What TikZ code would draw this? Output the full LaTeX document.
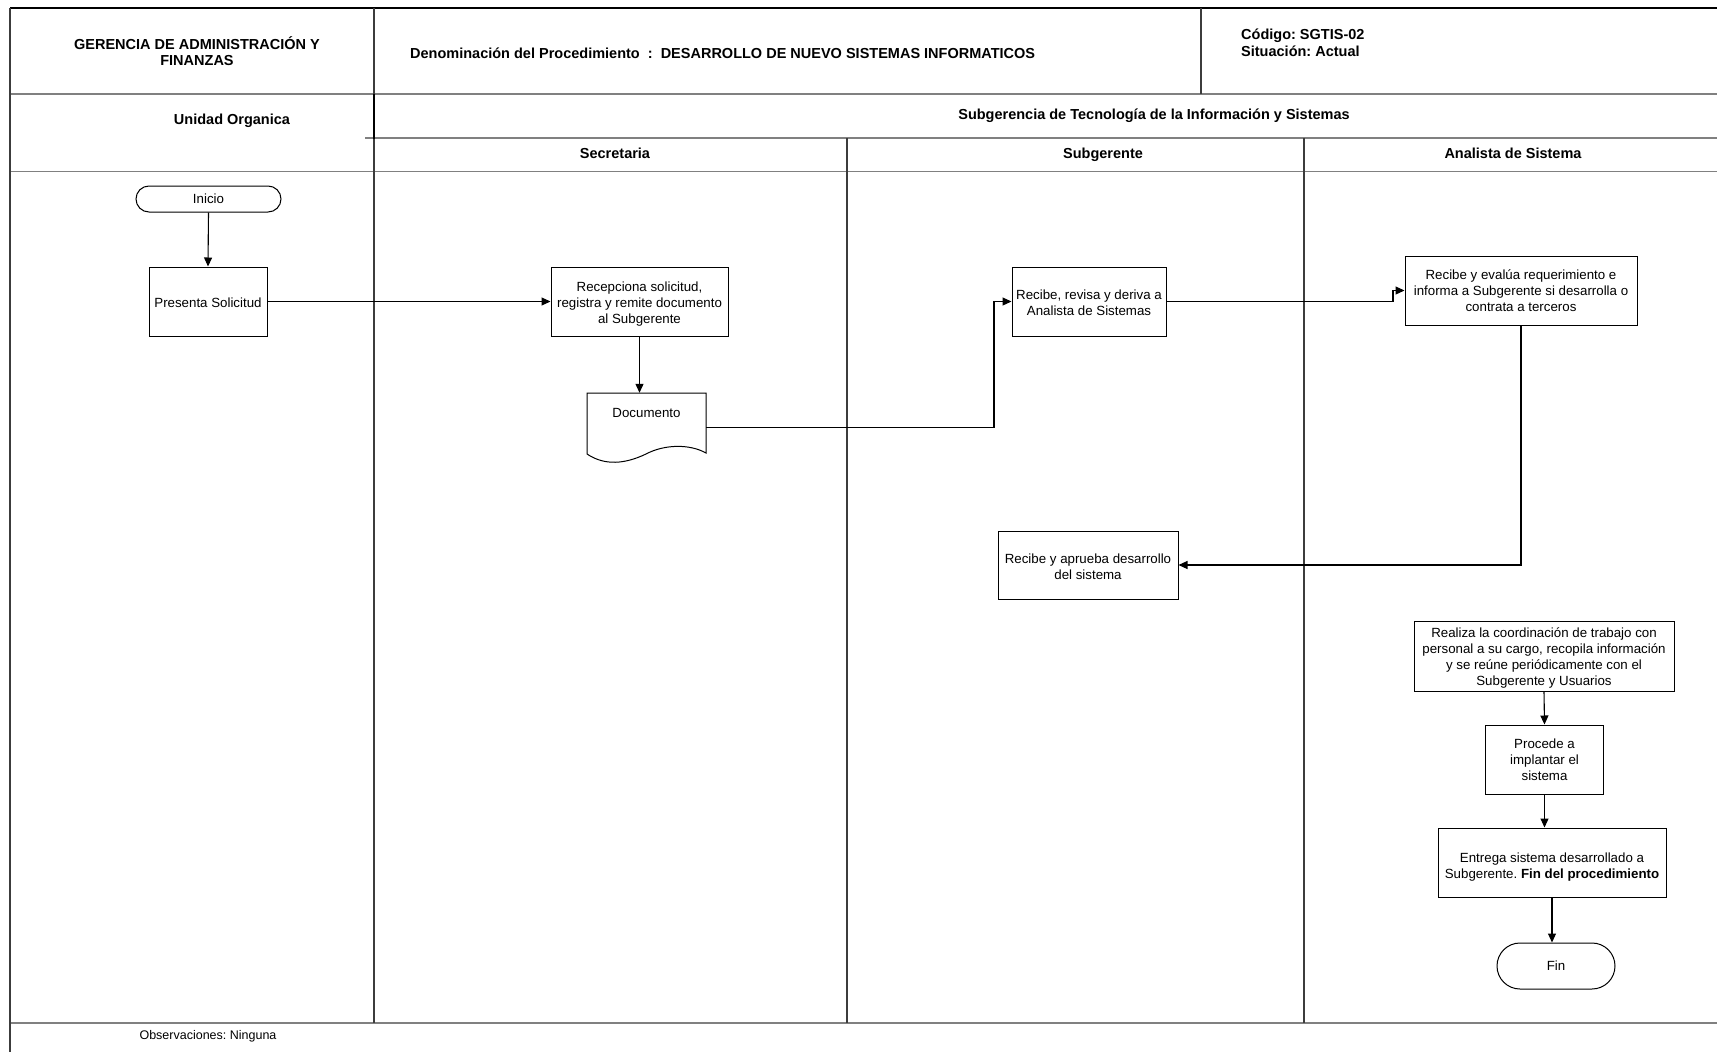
\documentclass[tikz,border=0pt]{standalone}
\usepackage{fontspec}
\setmainfont{Liberation Sans}
\usetikzlibrary{arrows.meta,calc}
\definecolor{gridgray}{RGB}{128,128,128}
\definecolor{lanedark}{RGB}{60,60,60}
\frenchspacing
\begin{document}
\begin{tikzpicture}[x=1pt,y=-1pt,
  gridline/.style={draw=gridgray, line width=1.8pt},
  laneline/.style={draw=lanedark, line width=1.1pt},
  headtxt/.style={font=\fontsize{14.5}{16.5}\selectfont\bfseries, inner sep=0pt},
  procbox/.style={draw=black, line width=1pt, inner sep=0pt},
  boxtext/.style={align=center, inner sep=0pt, font=\fontsize{13.3}{16}\selectfont},
  termbox/.style={draw=black, line width=1pt, inner sep=0pt, font=\fontsize{13.3}{16}\selectfont},
  arr/.style={draw=black, line width=1.1pt, -{Triangle[length=9pt,width=8pt]}}
]
\useasboundingbox (0,0) rectangle (1717,1052);
\fill[white] (0,0) rectangle (1717,1052);

% --- frame and lanes ---
\draw[gridline] (10,94) -- (1717,94);
\draw[gridline] (365,138) -- (1717,138);
\draw[gridline] (10,171.5) -- (1717,171.5);
\draw[gridline] (10,1023) -- (1717,1023);
\draw[draw=black, line width=1.3pt] (10,8) -- (1717,8);
\draw[laneline] (10,8) -- (10,1052);
\draw[laneline] (374,8) -- (374,1023);
\draw[draw=black, line width=2.4pt] (374,94) -- (374,139);
\draw[laneline] (1201,8) -- (1201,94);
\draw[laneline] (847,138) -- (847,1023);
\draw[laneline] (1304,138) -- (1304,1023);

% --- header texts ---
\node[headtxt, align=center] (tGer) at (197,51) {GERENCIA DE ADMINISTRACIÓN Y\\FINANZAS};
\node[headtxt, anchor=west] (tDen) at (410,53) {Denominación del Procedimiento\ \ :\ \ DESARROLLO DE NUEVO SISTEMAS INFORMATICOS};
\node[headtxt, anchor=west, align=left] (tCod) at (1241,43) {Código: SGTIS-02\\Situación: Actual};
\node[headtxt, anchor=base] (tUni) at (232,124.6) {Unidad Organica};
\node[headtxt, anchor=base] (tSub) at (1154,119) {Subgerencia de Tecnología de la Información y Sistemas};
\node[headtxt, anchor=base] (tSec) at (615,158.5) {Secretaria};
\node[headtxt, anchor=base] (tSge) at (1103,158.5) {Subgerente};
\node[headtxt, anchor=base] (tAna) at (1513,158.5) {Analista de Sistema};
\node[font=\fontsize{12.5}{15}\selectfont, inner sep=0pt, anchor=base] (tObs) at (208,1039.3) {Observaciones: Ninguna};

% --- flow nodes ---
\node[termbox, rounded corners=13pt, minimum width=145pt, minimum height=26pt] (inicio) at (208.5,199) {Inicio};

\node[procbox, minimum width=118pt, minimum height=69pt] (presenta) at (208,301.5) {};
\node[boxtext] (presentaT) at ([yshift=-1.1pt]presenta.center) {Presenta Solicitud};

\node[procbox, minimum width=177pt, minimum height=69pt] (recep) at (639.5,301.5) {};
\node[boxtext] (recepT) at ([yshift=-3pt]recep.center)
  {Recepciona solicitud,\\registra y remite documento\\al Subgerente};

% document symbol
\node[minimum width=119pt, minimum height=69pt, inner sep=0pt] (doc) at (646.5,427.5) {};
\draw[black, line width=1pt] (587,454) -- (587,393) -- (706,393) -- (706,453)
  .. controls (690,444) and (665,444) .. (646,454)
  .. controls (625,464) and (605,466) .. (587,454);
\node[boxtext] (docT) at (646.5,413) {Documento};

\node[procbox, minimum width=154pt, minimum height=69pt] (revisa) at (1089,301.5) {};
\node[boxtext] (revisaT) at ([yshift=-1.1pt]revisa.center)
  {Recibe, revisa y deriva a\\Analista de Sistemas};

\node[procbox, minimum width=232pt, minimum height=69pt] (evalua) at (1521,290.5) {};
\node[boxtext] (evaluaT) at (evalua.center)
  {Recibe y evalúa requerimiento e\\informa a Subgerente si desarrolla o\\contrata a terceros};

\node[procbox, minimum width=180pt, minimum height=68pt] (aprueba) at (1088,565) {};
\node[boxtext] (apruebaT) at ([yshift=-1.5pt]aprueba.center)
  {Recibe y aprueba desarrollo\\del sistema};

\node[procbox, minimum width=260pt, minimum height=70pt] (realiza) at (1544,656) {};
\node[boxtext] (realizaT) at ([yshift=-2pt]realiza.center)
  {Realiza la coordinación de trabajo con\\personal a su cargo, recopila información\\y se reúne periódicamente con el\\Subgerente y Usuarios};

\node[procbox, minimum width=118pt, minimum height=69pt] (procede) at (1544.5,759.5) {};
\node[boxtext] (procedeT) at ([yshift=-0.5pt]procede.center)
  {Procede a\\implantar el\\sistema};

\node[procbox, minimum width=228pt, minimum height=69pt] (entrega) at (1552,862.5) {};
\node[boxtext] (entregaT) at ([yshift=-4.4pt]entrega.center)
  {Entrega sistema desarrollado a\\Subgerente. \textbf{Fin del procedimiento}};

\node[termbox, rounded corners=23pt, minimum width=118pt, minimum height=46pt] (fin) at (1556,966) {Fin};

% --- connectors ---
\draw[arr] (inicio.south) -- (presenta.north);
\draw[arr] (presenta.east) -- (recep.west);
\draw[arr] (recep.south) -- (recep.south |- doc.north);
\coordinate (kDoc) at (994,301.5);
\draw[arr] (doc.east) -| (kDoc) -- (revisa.west);
\coordinate (kRev) at (1393,290.5);
\draw[arr] (revisa.east) -| (kRev) -- (evalua.west);
\draw[arr] (evalua.south) |- (aprueba.east);
\draw[arr] (realiza.south) -- (procede.north);
\draw[arr] (procede.south) -- (procede.south |- entrega.north);
\draw[arr] (entrega.south) -- (entrega.south |- fin.north);
\end{tikzpicture}
\end{document}
